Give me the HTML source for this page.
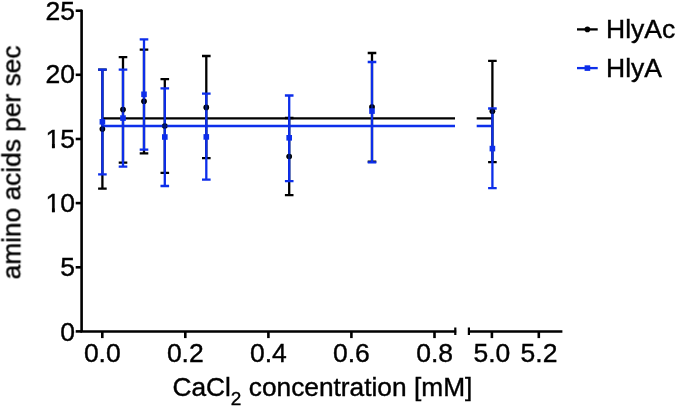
<!DOCTYPE html>
<html><head><meta charset="utf-8"><title>chart</title>
<style>
html,body{margin:0;padding:0;background:#fff;}
body{width:675px;height:406px;overflow:hidden;}
svg{display:block;}
text{font-family:"Liberation Sans",sans-serif;fill:#000;stroke:#000;stroke-width:0.4px;}
</style></head><body>
<svg width="675" height="406" viewBox="0 0 675 406">
<defs><filter id="soft" x="0" y="0" width="675" height="406" filterUnits="userSpaceOnUse"><feGaussianBlur stdDeviation="0.45"/></filter></defs>
<rect width="675" height="406" fill="#fff"/>
<g filter="url(#soft)">

<g stroke="#000" stroke-width="2.6" fill="none">
<path d="M81.6 9.7 V331.45 M80.3 331.45 H456.2 M468 331.45 H562.4"/>
<path d="M455.3 327.5 V335 M468.9 327.5 V335" stroke-width="2.2"/>
<path d="M75.7 331.4 H82"/>
<path d="M75.7 267.3 H82"/>
<path d="M75.7 203.1 H82"/>
<path d="M75.7 139.0 H82"/>
<path d="M75.7 74.8 H82"/>
<path d="M75.7 10.7 H82"/>
<path d="M102.3 331.45 V338.1"/>
<path d="M185.3 331.45 V338.1"/>
<path d="M268.4 331.45 V338.1"/>
<path d="M351.4 331.45 V338.1"/>
<path d="M434.5 331.45 V338.1"/>
<path d="M491.9 331.45 V338.1"/>
<path d="M538.8 331.45 V338.1"/>
</g>
<path d="M102.4 118.4 H455 M476.7 118.4 H492.4" stroke="#000" stroke-width="2.3"/>
<g stroke="#000" stroke-width="2.3" fill="none">
<path d="M102.4 69.6 V188.7 M98.1 69.6 H106.7 M98.1 188.7 H106.7"/>
<path d="M123.0 57.1 V162.7 M118.7 57.1 H127.3 M118.7 162.7 H127.3"/>
<path d="M144.0 49.6 V153.3 M139.7 49.6 H148.3 M139.7 153.3 H148.3"/>
<path d="M164.8 79.2 V172.9 M160.5 79.2 H169.1 M160.5 172.9 H169.1"/>
<path d="M206.3 56.0 V158.1 M202.0 56.0 H210.6 M202.0 158.1 H210.6"/>
<path d="M289.2 118.0 V195.1 M284.9 118.0 H293.5 M284.9 195.1 H293.5"/>
<path d="M372.0 53.0 V161.7 M367.7 53.0 H376.3 M367.7 161.7 H376.3"/>
<path d="M492.4 60.9 V162.1 M488.1 60.9 H496.7 M488.1 162.1 H496.7"/>
</g>
<g fill="#000">
<circle cx="102.4" cy="129.1" r="2.8"/>
<circle cx="123.0" cy="109.6" r="2.8"/>
<circle cx="144.0" cy="101.3" r="2.8"/>
<circle cx="164.8" cy="126.0" r="2.8"/>
<circle cx="206.3" cy="107.4" r="2.8"/>
<circle cx="289.2" cy="156.5" r="2.8"/>
<circle cx="372.0" cy="107.0" r="2.8"/>
<circle cx="492.4" cy="111.3" r="2.8"/>
</g>
<path d="M102.4 126 H455 M476.7 126 H492.4" stroke="#0a2eea" stroke-width="2.3"/>
<g stroke="#0a2eea" stroke-width="2.3" fill="none">
<path d="M102.4 69.6 V174.3 M98.1 69.6 H106.7 M98.1 174.3 H106.7"/>
<path d="M123.0 69.6 V166.7 M118.7 69.6 H127.3 M118.7 166.7 H127.3"/>
<path d="M144.0 39.3 V149.7 M139.7 39.3 H148.3 M139.7 149.7 H148.3"/>
<path d="M164.8 88.3 V186.0 M160.5 88.3 H169.1 M160.5 186.0 H169.1"/>
<path d="M206.3 93.6 V179.7 M202.0 93.6 H210.6 M202.0 179.7 H210.6"/>
<path d="M289.2 95.5 V181.2 M284.9 95.5 H293.5 M284.9 181.2 H293.5"/>
<path d="M372.0 62.0 V162.4 M367.7 62.0 H376.3 M367.7 162.4 H376.3"/>
<path d="M492.4 108.5 V188.2 M488.1 108.5 H496.7 M488.1 188.2 H496.7"/>
</g>
<g fill="#000" opacity="0.5">
<circle cx="102.4" cy="129.1" r="2.8"/>
<circle cx="123.0" cy="109.6" r="2.8"/>
<circle cx="144.0" cy="101.3" r="2.8"/>
<circle cx="164.8" cy="126.0" r="2.8"/>
<circle cx="206.3" cy="107.4" r="2.8"/>
<circle cx="289.2" cy="156.5" r="2.8"/>
<circle cx="372.0" cy="107.0" r="2.8"/>
<circle cx="492.4" cy="111.3" r="2.8"/>
</g>
<g fill="#0a2eea">
<rect x="99.6" y="119.0" width="5.6" height="5.6"/>
<rect x="120.2" y="115.3" width="5.6" height="5.6"/>
<rect x="141.2" y="91.5" width="5.6" height="5.6"/>
<rect x="162.0" y="134.2" width="5.6" height="5.6"/>
<rect x="203.5" y="134.1" width="5.6" height="5.6"/>
<rect x="286.4" y="135.0" width="5.6" height="5.6"/>
<rect x="369.2" y="108.3" width="5.6" height="5.6"/>
<rect x="489.6" y="145.8" width="5.6" height="5.6"/>
</g>
<path d="M577 29.4 H597.7" stroke="#000" stroke-width="2.3"/><circle cx="587.4" cy="29.4" r="2.8"/>
<path d="M577 68.1 H597.7" stroke="#0a2eea" stroke-width="2.3"/><rect x="584.6" y="65.3" width="5.6" height="5.6" fill="#0a2eea"/>
<text x="606.1" y="37.7" font-size="26.5">HlyAc</text>
<text x="606.1" y="76.9" font-size="26.5">HlyA</text>
<text x="75" y="340.6" font-size="26.5" text-anchor="end">0</text>
<text x="75" y="276.4" font-size="26.5" text-anchor="end">5</text>
<text x="75" y="211.9" font-size="26.5" text-anchor="end">10</text>
<path d="M45.4 208.70 H51.95 V213.30 H45.4 Z M54.72 208.70 H59.9 V213.30 H54.72 Z" fill="#fff"/>
<path d="M51.95 208.30 H54.72 V212.10 H51.95 Z" fill="#000"/>
<text x="75" y="147.6" font-size="26.5" text-anchor="end">15</text>
<path d="M45.4 144.40 H51.95 V149.00 H45.4 Z M54.72 144.40 H59.9 V149.00 H54.72 Z" fill="#fff"/>
<path d="M51.95 144.00 H54.72 V147.80 H51.95 Z" fill="#000"/>
<text x="75" y="83.1" font-size="26.5" text-anchor="end">20</text>
<text x="75" y="19.9" font-size="26.5" text-anchor="end">25</text>
<text x="102.3" y="362.3" font-size="26.5" text-anchor="middle">0.0</text>
<text x="185.3" y="362.3" font-size="26.5" text-anchor="middle">0.2</text>
<text x="268.4" y="362.3" font-size="26.5" text-anchor="middle">0.4</text>
<text x="351.4" y="362.3" font-size="26.5" text-anchor="middle">0.6</text>
<text x="434.6" y="362.3" font-size="26.5" text-anchor="middle">0.8</text>
<text x="491.9" y="362.3" font-size="26.5" text-anchor="middle">5.0</text>
<text x="539.0" y="362.3" font-size="26.5" text-anchor="middle">5.2</text>
<text x="172.4" y="396.1" font-size="26.3">CaCl<tspan font-size="19" dy="8.5">2</tspan><tspan dy="-8.5"> concentration [mM]</tspan></text>
<text transform="translate(20.4 279.4) rotate(-90)" font-size="26.3">amino acids per sec</text>
</g></svg></body></html>
